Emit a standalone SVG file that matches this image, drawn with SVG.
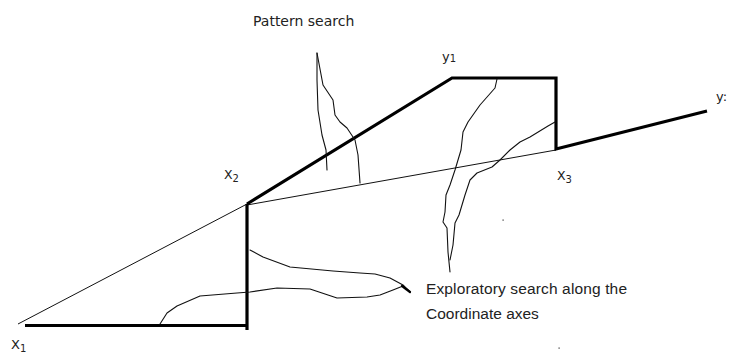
<svg xmlns="http://www.w3.org/2000/svg" width="731" height="353" viewBox="0 0 731 353">
<style>
.thick{fill:none;stroke:#000;stroke-width:3.2;stroke-linejoin:miter}
.thin{fill:none;stroke:#111;stroke-width:1}
.curve{fill:none;stroke:#111;stroke-width:1.1;stroke-linejoin:round;stroke-linecap:round}
.lbl{font-family:"DejaVu Sans",sans-serif;fill:#222}
.cal{font-family:"Liberation Sans",Arial,sans-serif;fill:#222;font-size:15.5px}
</style>
<rect width="731" height="353" fill="#fff"/>
<g id="connectors">
<line class="thin" x1="18" y1="324" x2="247" y2="204"/>
<line class="thin" x1="247" y1="205" x2="556" y2="150"/>
<line class="thick" x1="25" y1="325.5" x2="247" y2="325.5"/>
<line class="thick" x1="247" y1="330" x2="247" y2="204"/>
<polyline class="thick" points="247,204 452,78 556,78 556,149 707,111"/>
</g>
<g id="pattern-curves">
<polyline class="curve" points="317,53 317,80 318,110 322,135 326,150 327,170"/>
<polyline class="curve" points="317,53 323,85 333,100 335,115 340,122 347,128 355,140 358,155 360,183"/>
<polyline class="curve" points="497,79 495,88 480,105 468,122 463,132 461,150 455,170 450,185 446,195 445,212 443,222 447,228 448,252 450,272"/>
<polyline class="curve" points="555,122 548,126 530,137 520,142 510,150 500,160 492,167 477,173 470,180 465,195 459,215 455,223 453,245 450,260"/>
</g>
<g id="exploratory-curves">
<polyline class="curve" points="250,250 263,257 290,267 333,271 360,273 375,274 390,278 403,285 410,292"/>
<polyline class="curve" points="160,324 167,313 177,306 200,296 237,293 250,292 277,288 310,289 337,298 367,297 380,295 393,290 403,286 410,292"/>
<line x1="402" y1="286" x2="410" y2="292" stroke="#000" stroke-width="2.2" stroke-linecap="round"/>
</g>
<g id="dots">
<rect x="502.5" y="219.5" width="1.2" height="1.2" fill="#333"/>
<rect x="558.5" y="347.5" width="1.2" height="1.2" fill="#333"/>
</g>
<g id="labels">
<text class="lbl" x="253" y="26" font-size="14">Pattern search</text>
<text class="lbl" x="224" y="179" font-size="12.5">X<tspan font-size="10" dy="3">2</tspan></text>
<text class="lbl" x="557" y="180" font-size="12.5">X<tspan font-size="10" dy="3">3</tspan></text>
<text class="lbl" x="11" y="349" font-size="13">X<tspan font-size="10" dy="3">1</tspan></text>
<text class="lbl" x="442" y="61" font-size="13">y<tspan font-size="10" dy="1">1</tspan></text>
<text class="lbl" x="716" y="101" font-size="13">y:</text>
<text class="cal" x="426" y="294" textLength="201">Exploratory search along the</text>
<text class="cal" x="426" y="319">Coordinate axes</text>
</g>
</svg>
